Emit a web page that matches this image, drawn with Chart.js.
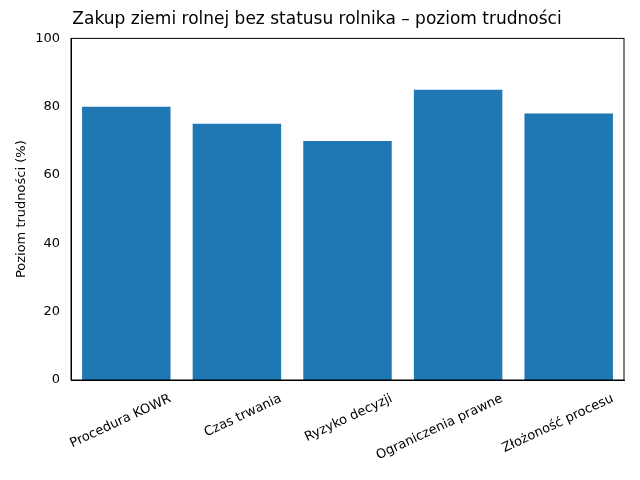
<!DOCTYPE html>
<html>
<head>
<meta charset="utf-8">
<script src="https://cdn.jsdelivr.net/npm/chart.js@4"></script>
<style>
  body { margin: 0; background: #fff; }
  #wrap { width: 640px; height: 480px; }
</style>
</head>
<body>
<div id="wrap"><canvas id="chart"></canvas></div>
<script>
'use strict';

const categories = ['Procedura KOWR', 'Czas trwania', 'Ryzyko decyzji', 'Ograniczenia prawne', 'Złożoność procesu'];
const difficulty = [80, 75, 70, 85, 78];
const yTicks = [0, 20, 40, 60, 80, 100];

// frame around the plot area, like matplotlib
const frame = {
  id: 'frame',
  afterDraw(chart) {
    const { ctx, chartArea: a } = chart;
    ctx.save();
    ctx.strokeStyle = '#000';
    ctx.lineWidth = 1;
    ctx.strokeRect(a.left, a.top, a.right - a.left, a.bottom - a.top);
    ctx.restore();
  }
};

const canvasElem = document.getElementById('chart');
new Chart(canvasElem, {
  type: 'bar',
  data: {
    labels: categories,
    datasets: [{
      data: difficulty,
      backgroundColor: '#1f77b4',
      barPercentage: 0.8,
      categoryPercentage: 1.0
    }]
  },
  options: {
    responsive: true,
    maintainAspectRatio: false,
    animation: false,
    layout: { padding: { left: 10, right: 16, top: 0, bottom: 0 } },
    plugins: {
      legend: { display: false },
      tooltip: { enabled: false },
      title: {
        display: true,
        text: 'Zakup ziemi rolnej bez statusu rolnika – poziom trudności',
        color: '#000',
        font: { family: 'DejaVu Sans', size: 17, weight: 'normal' },
        padding: { top: 9, bottom: 9 }
      }
    },
    scales: {
      x: {
        afterFit(axis) { axis.height = 100; },
        grid: { display: false, drawTicks: true },
        border: { color: '#000' },
        ticks: {
          color: '#000',
          minRotation: 25,
          maxRotation: 25,
          labelOffset: 44,
          font: { family: 'DejaVu Sans', size: 13 }
        }
      },
      y: {
        min: 0,
        max: 100,
        afterFit(axis) { axis.width = 61; },
        afterBuildTicks(axis) { axis.ticks = yTicks.map(v => ({ value: v })); },
        grid: { display: false },
        border: { color: '#000' },
        ticks: { color: '#000', font: { family: 'DejaVu Sans', size: 13 } },
        title: {
          display: true,
          text: 'Poziom trudności (%)',
          color: '#000',
          font: { family: 'DejaVu Sans', size: 13 }
        }
      }
    }
  },
  plugins: [frame]
});
</script>
</body>
</html>
